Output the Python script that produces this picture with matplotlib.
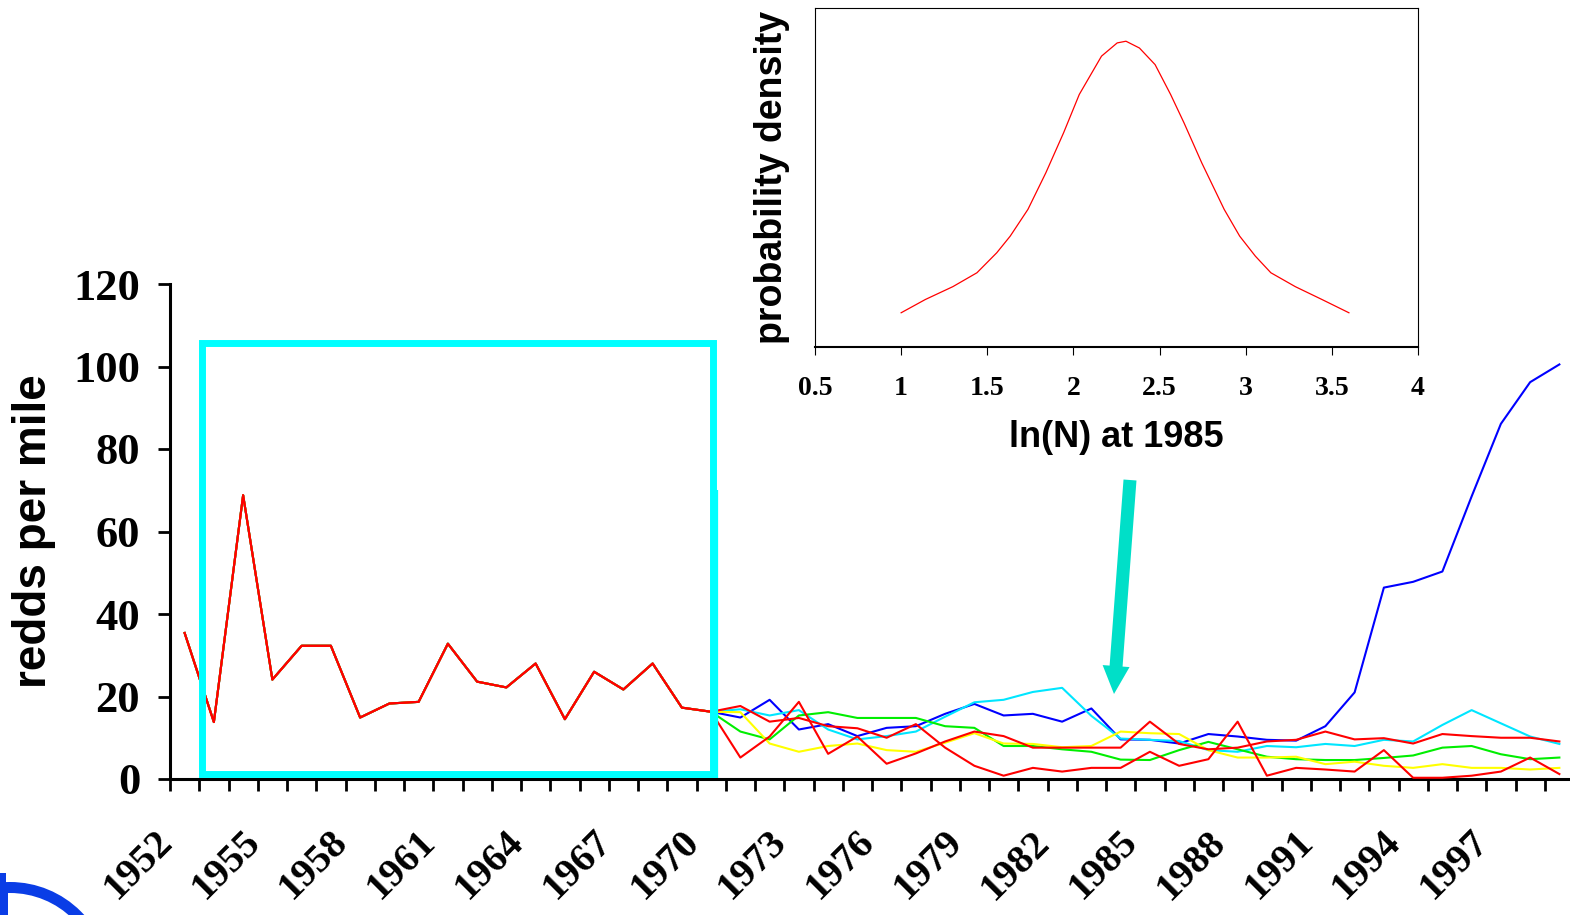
import numpy as np
import matplotlib
matplotlib.use("Agg")
import matplotlib.pyplot as plt
from matplotlib import font_manager
from matplotlib.patches import Rectangle, FancyArrow, Wedge
from matplotlib.transforms import blended_transform_factory

# ---- data ----
years = list(range(1952, 2000))
year_labels = list(range(1952, 1998, 3))

# 1952-1970: every run shares the observed record
observed = [35.4, 13.8, 68.8, 24.1, 32.3, 32.3, 14.9, 18.3, 18.7, 32.8,
            23.6, 22.2, 28.0, 14.5, 26.0, 21.7, 28.0, 17.3, 16.3]

# 1971-1999 projections
blue_tail = [14.9, 19.2, 12.0, 13.3, 10.4, 12.4, 12.8, 15.8, 18.2, 15.4,
             15.8, 13.9, 17.1, 9.6, 9.5, 8.6, 10.9, 10.3, 9.5, 9.3,
             12.8, 21.0, 46.4, 47.8, 50.3, 68.5, 86.1, 96.2, 100.5]
cyan_tail = [16.9, 15.4, 16.7, 12.0, 9.6, 10.4, 11.5, 15.1, 18.6, 19.2,
             21.1, 22.1, 15.3, 9.8, 9.5, 9.2, 7.0, 6.6, 8.0, 7.7,
             8.5, 8.0, 9.5, 9.1, 13.1, 16.7, 13.5, 10.3, 8.5]
green_tail = [11.5, 9.6, 15.4, 16.2, 14.8, 14.8, 14.8, 12.8, 12.4, 8.0,
              8.0, 7.2, 6.6, 4.7, 4.6, 7.0, 9.0, 7.2, 5.4, 4.8,
              4.6, 4.6, 5.1, 5.7, 7.6, 8.0, 6.0, 4.8, 5.2]
yellow_tail = [16.2, 8.6, 6.6, 8.0, 8.6, 7.0, 6.6, 8.8, 11.1, 8.6,
               8.5, 7.7, 8.0, 11.5, 11.1, 10.9, 7.0, 5.2, 5.2, 5.4,
               3.6, 4.2, 3.2, 2.7, 3.6, 2.7, 2.7, 2.3, 2.7]
red1_tail = [17.7, 13.9, 14.8, 12.8, 12.3, 10.0, 13.3, 7.6, 3.2, 0.8,
             2.7, 1.8, 2.7, 2.7, 6.6, 3.2, 4.8, 13.9, 0.8, 2.7,
             2.3, 1.8, 7.0, 0.3, 0.3, 0.8, 1.8, 5.2, 1.2]
red2_tail = [5.2, 10.3, 18.7, 6.1, 10.3, 3.7, 6.2, 9.1, 11.5, 10.4,
             7.6, 7.6, 7.6, 7.6, 13.9, 8.5, 7.2, 7.6, 9.1, 9.5,
             11.5, 9.6, 9.9, 8.6, 10.9, 10.4, 10.0, 10.0, 9.1]

# inset: density of ln(N) at 1985 (arbitrary height units)
ln_n = [1.0, 1.14, 1.30, 1.44, 1.555, 1.633, 1.736, 1.84, 1.943, 2.034,
        2.163, 2.254, 2.305, 2.383, 2.474, 2.564, 2.642, 2.745, 2.875,
        2.965, 3.056, 3.146, 3.288, 3.443, 3.599]
density = [0.101, 0.140, 0.178, 0.219, 0.278, 0.327, 0.406, 0.514, 0.632,
           0.745, 0.858, 0.897, 0.902, 0.882, 0.833, 0.745, 0.661, 0.543,
           0.406, 0.327, 0.268, 0.219, 0.178, 0.140, 0.101]

runs = [
    (blue_tail, "#0000ff"),
    (cyan_tail, "#00e6ff"),
    (green_tail, "#00ee00"),
    (yellow_tail, "#ffff00"),
    (red2_tail, "#ff0000"),
    (red1_tail, "#ff0000"),
]

serif = ["Liberation Serif", "DejaVu Serif"]
sans = ["Liberation Sans", "DejaVu Sans"]
have_narrow = any(f.name == "Liberation Sans Narrow"
                  for f in font_manager.fontManager.ttflist)

W, H = 1570, 915
fig = plt.figure(figsize=(W / 100, H / 100), dpi=100)

# ---- main chart ----
ax = fig.add_axes([170 / W, 136 / H, 1404 / W, 495 / H])
for tail, color in runs:
    ax.plot(years, observed + tail, color=color, lw=1.5, zorder=3)

ax.set_xlim(1951.5, 1999.5)
ax.set_ylim(0, 120)
ax.set_yticks(range(0, 121, 20))
ax.set_xticks(np.arange(1951.5, 2000, 1))
ax.set_xticklabels([])
ax.tick_params(axis="both", direction="out", length=8.5, width=2)
for lab in ax.get_yticklabels():
    lab.set_fontfamily(serif)
    lab.set_fontweight("bold")
    lab.set_fontsize(32)
ax.tick_params(axis="y", pad=13)
for side in ["top", "right"]:
    ax.spines[side].set_visible(False)
for side in ["left", "bottom"]:
    ax.spines[side].set_linewidth(2.2)

trans = blended_transform_factory(ax.transData, ax.transAxes)
for y in year_labels:
    ax.text(y - 1.05, -0.09, str(y), transform=trans, rotation=45,
            rotation_mode="anchor", ha="right", va="top",
            family=serif, weight="bold", fontsize=29, clip_on=False)

ax.set_ylabel("redds per mile", family=sans, weight="bold", fontsize=33)
ax.yaxis.set_label_coords(-0.081, 0.5)

# highlighted observed period
ax.add_patch(Rectangle((1952.59, 1.1), 1970.06 - 1952.59, 105.6 - 1.1,
                       fill=False, edgecolor="#00ffff", lw=5, zorder=4,
                       clip_on=False))
ax.plot([1970.14, 1970.14], [0.3, 70], color="#00ffff", lw=4.5,
        solid_capstyle="butt", zorder=4)

# ---- inset ----
ins = fig.add_axes([815 / W, 1 - 347 / H, 603 / W, 339 / H])
ins.plot(ln_n, density, color="#ff0000", lw=0.9)
ins.set_xlim(0.5, 4)
ins.set_ylim(0, 1)
ins.set_yticks([])
ins.set_xticks(np.arange(0.5, 4.01, 0.5))
ins.set_xticklabels(["0.5", "1", "1.5", "2", "2.5", "3", "3.5", "4"])
ins.tick_params(axis="x", direction="out", length=6, width=0.8, pad=15)
for lab in ins.get_xticklabels():
    lab.set_fontfamily(serif)
    lab.set_fontweight("bold")
    lab.set_fontsize(20)
for side in ins.spines.values():
    side.set_linewidth(0.8)
ins.spines["bottom"].set_linewidth(1.5)
if have_narrow:
    ins.set_xlabel("ln(N) at 1985", family=["Liberation Sans Narrow"] + sans,
                   weight="bold", fontsize=30)
else:
    ins.set_xlabel("ln(N) at 1985", family=sans, weight="bold", fontsize=26)
ins.xaxis.set_label_coords(0.5, -0.215)
ins.set_ylabel("probability density", family=sans, weight="bold", fontsize=27)
ins.yaxis.set_label_coords(-0.042, 0.5)

# ---- overlay in pixel units: arrow and logo fragment ----
ov = fig.add_axes([0, 0, 1, 1], zorder=5)
ov.set_xlim(0, W)
ov.set_ylim(H, 0)
ov.axis("off")
ov.patch.set_alpha(0)
ov.add_patch(FancyArrow(1130, 480, -16, 214, width=13, head_width=27,
                        head_length=28, length_includes_head=True,
                        color="#00dfc8", lw=0))
ov.add_patch(Wedge((10, 982), 100, 180, 360, width=11, color="#0a3de6", lw=0))
ov.add_patch(Rectangle((0, 893), 8, 22, color="#0a3de6", lw=0))
ov.add_patch(Rectangle((0, 873), 6, 10, color="#0a3de6", lw=0))

fig.savefig("out.png", dpi=100)
